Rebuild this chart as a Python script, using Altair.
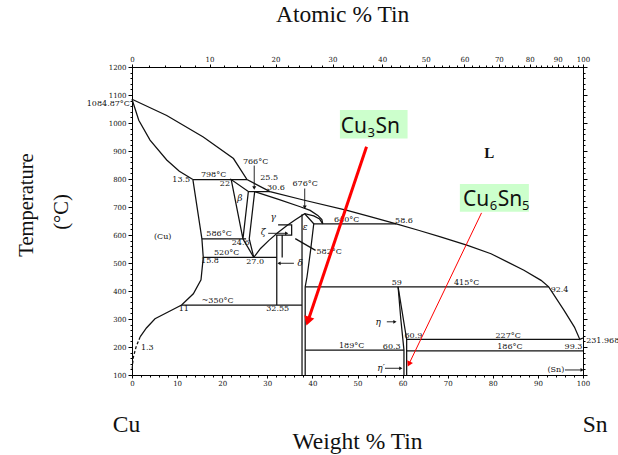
import altair as alt
import pandas as pd

# Atomic masses used for the at.% <-> wt.% secondary axis
M_CU, M_SN = 63.546, 118.71

# ---------------- phase boundaries (wt.% Sn, °C) ----------------
liquidus_wt = [0, 7.7, 15.8, 22.5, 25.5, 30.6, 38.0, 47.7, 53.0, 58.6, 63.5, 68.4,
               74.4, 79.6, 86.9, 90.7, 92.4, 95.8, 98.1, 99.3, 100]
liquidus_T = [1084.87, 1027, 950, 873, 798, 755, 725, 688, 665, 640, 617, 593,
              563, 533, 474, 438, 415, 331, 271, 227, 231.97]

cu_solidus_wt = [0, 1.5, 4.0, 7.7, 10.5, 13.5]
cu_solidus_T = [1084.87, 1010, 939, 868, 828, 798]

cu_solvus_wt = [13.5, 15.5, 15.8, 15.3, 13.6, 11.0, 8.0, 5.1, 3.2, 1.8]
cu_solvus_T = [798, 586, 520, 440, 390, 350, 325, 301, 268, 236]
cu_solvus_low_wt = [1.8, 0.9, 0.3, 0.0]
cu_solvus_low_T = [236, 200, 164, 117]

beta_wt = [24.6, 22.0, 25.8, 24.6]
beta_T = [586, 798, 755, 586]
beta_low_wt = [24.6, 27.0]
beta_low_T = [586, 520]

gamma_left_wt = [27.2, 26.0, 27.0]
gamma_left_T = [755, 586, 520]
gamma_right_wt = [27.2, 32.5, 37.3, 39.5, 41.2, 42.1, 42.3]
gamma_right_T = [755, 727, 701, 688, 670, 655, 640]

dome_wt = [27.0, 28.5, 30.3, 32.3, 34.3, 36.3, 38.3, 40.3, 41.6, 42.3]
dome_T = [520, 552, 580, 608, 633, 655, 676, 668, 657, 640]

eps_left_wt = [37.7, 37.7]
eps_left_T = [674, 100]
eps_right_wt = [38.3, 40.3, 39.6, 38.8, 38.4, 38.4]
eps_right_T = [676, 640, 545, 450, 415, 100]

delta_a_wt = [32.1, 32.1]
delta_a_T = [600, 350]
delta_b_wt = [33.3, 33.3]
delta_b_T = [600, 520]
zeta_wt = [32.4, 35.4, 35.4, 32.1]
zeta_T = [636, 636, 600, 600]
leader582_wt = [36.2, 40.7]
leader582_T = [587, 545]

eta_left_wt = [59.0, 59.6, 60.3, 60.3]
eta_left_T = [415, 300, 189, 100]
eta_right_wt = [59.0, 60.9, 60.9]
eta_right_T = [415, 227, 100]

# isotherms: temperature, left end, right end
iso_T = [798, 755, 586, 520, 350, 640, 415, 189, 227, 186]
iso_from = [13.5, 25.8, 15.5, 15.8, 11.0, 40.3, 38.4, 38.4, 60.9, 60.9]
iso_to = [25.5, 30.6, 25.3, 32.1, 37.7, 58.6, 92.4, 60.3, 99.3, 100.0]

solid_curves = {
    "liquidus": (liquidus_wt, liquidus_T),
    "cu_solidus": (cu_solidus_wt, cu_solidus_T),
    "cu_solvus": (cu_solvus_wt, cu_solvus_T),
    "beta": (beta_wt, beta_T),
    "beta_low": (beta_low_wt, beta_low_T),
    "gamma_left": (gamma_left_wt, gamma_left_T),
    "gamma_right": (gamma_right_wt, gamma_right_T),
    "dome": (dome_wt, dome_T),
    "eps_left": (eps_left_wt, eps_left_T),
    "eps_right": (eps_right_wt, eps_right_T),
    "delta_a": (delta_a_wt, delta_a_T),
    "delta_b": (delta_b_wt, delta_b_T),
    "zeta": (zeta_wt, zeta_T),
    "leader582": (leader582_wt, leader582_T),
    "eta_left": (eta_left_wt, eta_left_T),
    "eta_right": (eta_right_wt, eta_right_T),
}
for k, (t, a, b) in enumerate(zip(iso_T, iso_from, iso_to)):
    solid_curves[f"iso{k}"] = ([a, b], [t, t])

rows = []
for name, (ws, ts) in solid_curves.items():
    for i, (w, t) in enumerate(zip(ws, ts)):
        rows.append({"seg": name, "i": i, "wt": w, "T": t})
lines_df = pd.DataFrame(rows)
dashed_df = pd.DataFrame({"seg": "low", "i": range(len(cu_solvus_low_wt)),
                          "wt": cu_solvus_low_wt, "T": cu_solvus_low_T})

# ---------------- annotations ----------------
num_text = ["798°C", "22", "766°C", "25.5", "30.6", "676°C", "(Cu)", "586°C", "24.6",
            "520°C", "15.8", "27.0", "640°C", "58.6", "~350°C", "11", "32.55", "1.3",
            "59", "415°C", "92.4", "60.9", "60.3", "189°C", "227°C", "186°C", "99.3", "(Sn)"]
num_wt = [18.1, 20.6, 27.4, 30.4, 31.9, 38.4, 6.8, 19.3, 24.1,
          21.0, 17.3, 27.3, 47.6, 60.3, 19.0, 11.5, 32.3, 3.4,
          58.7, 74.2, 94.8, 62.4, 57.6, 48.7, 83.4, 83.8, 97.9, 94.0]
num_T = [814, 781, 862, 805, 767, 781, 594, 604, 571,
         537, 507, 505, 652, 651, 365, 336, 336, 195,
         428, 427, 404, 240, 201, 203, 240, 200, 200, 118]

right_text = ["1084.87°C", "13.5"]
right_wt = [-0.45, 12.9]
right_T = [1068, 796]

left_text = ["582°C", "231.968"]
left_wt = [40.9, 100.7]
left_T = [538, 222]

greek_text = ["β", "γ", "ε", "ζ", "δ", "η", "η′"]
greek_wt = [23.9, 31.3, 38.4, 29.1, 37.3, 54.6, 55.2]
greek_T = [731, 665, 630, 610, 499, 290, 124]

# small horizontal pointer arrows (start, end, temperature)
ptr_from = [30.2, 35.9, 56.5, 56.1, 96.0]
ptr_to = [34.3, 32.6, 58.3, 59.6, 99.8]
ptr_T = [606, 499, 290, 124, 118]
# vertical pointer arrows for the 766 and 676 °C points
vptr_wt = [27.1, 38.3]
vptr_top = [848, 766]
vptr_tip = [768, 699]

xs = alt.Scale(domain=[0, 100], nice=False, zero=False)
ys = alt.Scale(domain=[100, 1200], nice=False, zero=False)
XQ = alt.X("wt:Q", scale=xs, axis=None)
YQ = alt.Y("T:Q", scale=ys, axis=None)

SERIF_SMALL = dict(font="DejaVu Serif", fontSize=8, color="#111")

layers = []

# axis frame layers (major / minor ticks on all four sides)
frame = pd.DataFrame({"wt": [0, 100], "T": [100, 1200]})
def at_to_wt(a):
    return 100 * a * M_SN / (a * M_SN + (100 - a) * M_CU)

ax_common = dict(grid=False, labelFont="DejaVu Serif", labelFontSize=7, labelColor="#111",
                 tickColor="black", domainColor="black", labelFlush=False, labelOverlap=False,
                 format="d")
at_label = ("format(round(100*(datum.value/118.71)/((datum.value/118.71)+((100-datum.value)/63.546))), 'd')")
axis_specs = [
    (alt.Axis(orient="bottom", values=list(range(0, 101, 10)), tickSize=3, labelPadding=1, **ax_common),
     alt.Axis(orient="left", values=list(range(100, 1201, 100)), tickSize=4, labelPadding=2, **ax_common)),
    (alt.Axis(orient="bottom", values=list(range(0, 101, 2)), tickSize=2, labels=False, domain=False, **ax_common),
     alt.Axis(orient="left", values=list(range(100, 1201, 20)), tickSize=2, labels=False, domain=False, **ax_common)),
    (alt.Axis(orient="top", values=[at_to_wt(a) for a in range(0, 101, 10)], labelExpr=at_label,
              tickSize=3, labelPadding=2, **ax_common),
     alt.Axis(orient="right", values=list(range(100, 1201, 100)), tickSize=4, labels=False, **ax_common)),
    (alt.Axis(orient="top", values=[at_to_wt(a) for a in range(0, 101, 2)], tickSize=2, labels=False,
              domain=False, **ax_common),
     alt.Axis(orient="right", values=list(range(100, 1201, 20)), tickSize=2, labels=False, domain=False,
              **ax_common)),
]
for xa, ya in axis_specs:
    layers.append(alt.Chart(frame).mark_point(opacity=0).encode(
        x=alt.X("wt:Q", scale=xs, axis=xa, title=None),
        y=alt.Y("T:Q", scale=ys, axis=ya, title=None)))

# phase boundaries
layers.append(alt.Chart(lines_df).mark_line(color="#111", strokeWidth=1.25).encode(
    x=XQ, y=YQ, detail="seg:N", order="i:Q"))
layers.append(alt.Chart(dashed_df).mark_line(color="#111", strokeWidth=1.25, strokeDash=[3, 2]).encode(
    x=XQ, y=YQ, detail="seg:N", order="i:Q"))

# pointer arrows
ptr_df = pd.DataFrame({"a": ptr_from, "b": ptr_to, "T": ptr_T})
layers.append(alt.Chart(ptr_df).mark_rule(color="#111", strokeWidth=0.9).encode(
    x=alt.X("a:Q", scale=xs, axis=None), x2="b:Q", y=YQ))
ptr_df["dir"] = ["r" if b > a else "l" for a, b in zip(ptr_from, ptr_to)]
layers.append(alt.Chart(ptr_df[ptr_df["dir"] == "r"]).mark_point(
    shape="triangle-right", filled=True, size=14, color="#111", opacity=1).encode(
    x=alt.X("b:Q", scale=xs, axis=None), y=YQ))
layers.append(alt.Chart(ptr_df[ptr_df["dir"] == "l"]).mark_point(
    shape="triangle-left", filled=True, size=14, color="#111", opacity=1).encode(
    x=alt.X("b:Q", scale=xs, axis=None), y=YQ))
vptr_df = pd.DataFrame({"wt": vptr_wt, "T": vptr_top, "T2": vptr_tip})
layers.append(alt.Chart(vptr_df).mark_rule(color="#111", strokeWidth=0.9).encode(
    x=XQ, y=YQ, y2="T2:Q"))
layers.append(alt.Chart(vptr_df).mark_point(
    shape="triangle-down", filled=True, size=16, color="#111", opacity=1).encode(
    x=XQ, y=alt.Y("T2:Q", scale=ys, axis=None)))

# numeric / phase labels
def text_layer(texts, ws, ts, **mk):
    d = pd.DataFrame({"text": texts, "wt": ws, "T": ts})
    return alt.Chart(d).mark_text(**mk).encode(x=XQ, y=YQ, text="text:N")

layers.append(text_layer(num_text, num_wt, num_T, align="center", baseline="middle", **SERIF_SMALL))
layers.append(text_layer(right_text, right_wt, right_T, align="right", baseline="middle", **SERIF_SMALL))
layers.append(text_layer(left_text, left_wt, left_T, align="left", baseline="middle", **SERIF_SMALL))
layers.append(text_layer(greek_text, greek_wt, greek_T, align="center", baseline="middle",
                         font="DejaVu Serif", fontSize=9, fontStyle="italic", color="#111"))
layers.append(text_layer(["L"], [79.2], [892], align="center", baseline="middle",
                         font="Liberation Serif", fontSize=15, fontWeight="bold", color="#111"))

# compound call-outs
box_df = pd.DataFrame({"x1": [46.1, 72.7], "x2": [61.1, 88.0], "y1": [945, 683], "y2": [1046, 782]})
layers.append(alt.Chart(box_df).mark_rect(color="#ccffcc").encode(
    x=alt.X("x1:Q", scale=xs, axis=None), x2="x2:Q",
    y=alt.Y("y1:Q", scale=ys, axis=None), y2="y2:Q"))

red_df = pd.DataFrame({"wt": [52.0, 77.5], "T": [915, 679], "wt2": [39.0, 61.4], "T2": [292, 139]})
layers.append(alt.Chart(red_df.iloc[[0]]).mark_rule(color="#ff0000", strokeWidth=3).encode(
    x=XQ, y=YQ, x2="wt2:Q", y2="T2:Q"))
layers.append(alt.Chart(red_df.iloc[[1]]).mark_rule(color="#ff0000", strokeWidth=1).encode(
    x=XQ, y=YQ, x2="wt2:Q", y2="T2:Q"))
layers.append(alt.Chart(red_df.iloc[[0]]).mark_point(
    shape="triangle-down", filled=True, size=110, color="#ff0000", opacity=1, angle=18.6).encode(
    x=alt.X("wt2:Q", scale=xs, axis=None), y=alt.Y("T2:Q", scale=ys, axis=None)))
layers.append(alt.Chart(red_df.iloc[[1]]).mark_point(
    shape="triangle-down", filled=True, size=40, color="#ff0000", opacity=1, angle=25.7).encode(
    x=alt.X("wt2:Q", scale=xs, axis=None), y=alt.Y("T2:Q", scale=ys, axis=None)))

SANS = dict(font="Noto Sans", color="#111", baseline="alphabetic")
layers.append(text_layer(["Cu", "Cu"], [52.1, 79.2], [963, 704], align="right", fontSize=21, **SANS))
layers.append(text_layer(["Sn", "Sn"], [54.0, 81.1], [963, 704], align="left", fontSize=21, **SANS))
layers.append(text_layer(["3", "6", "5"], [52.2, 79.3, 86.5], [949, 689, 689], align="left",
                         fontSize=13, **SANS))

# titles and element names
TITLE = dict(font="Liberation Serif", color="#111", align="center")
layers.append(text_layer(["Atomic % Tin", "Cu", "Sn"], [46.7, -1.2, 102.7], [1384, -79, -79],
                         fontSize=23.5, baseline="middle", **TITLE))
layers.append(text_layer(["Weight % Tin"], [50.0], [-165], fontSize=23.5, baseline="alphabetic", **TITLE))
layers.append(text_layer(["Temperature", "(°C)"], [-23.3, -15.6], [707, 682],
                         fontSize=20.5, angle=270, baseline="middle", **TITLE))

chart = alt.layer(*layers).resolve_axis(x="independent", y="independent").properties(
    width=451, height=308,
    autosize=alt.AutoSizeParams(type="none"),
    padding={"left": 132, "top": 67, "right": 35, "bottom": 80},
    background="white",
).configure_view(stroke=None)

chart.save("out.html", embed_options={"renderer": "svg", "actions": False})
